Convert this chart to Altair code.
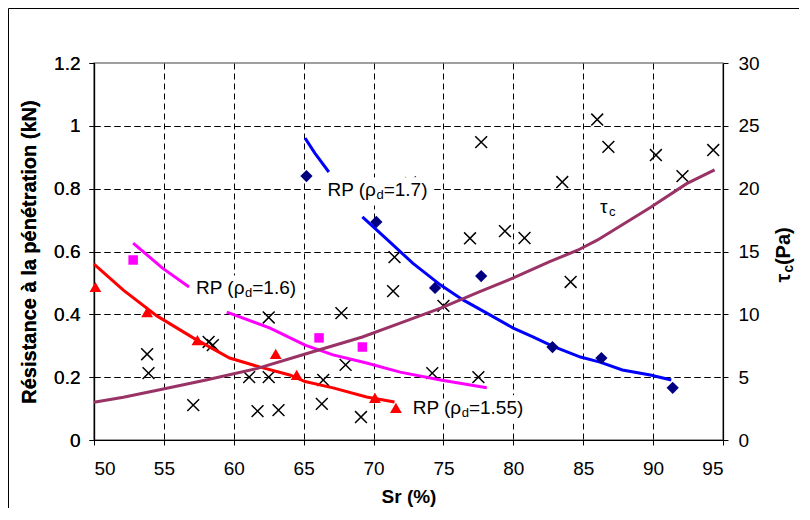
import altair as alt
import pandas as pd

FONT = "Liberation Sans"

# ---- data ----
# individual measurements (black crosses)
cross_sr = [53.8, 53.9, 57.1, 58.2, 58.5, 61.1, 61.7, 62.5, 62.5, 63.2,
            66.3, 66.4, 67.7, 68.0, 69.1, 71.4, 71.5, 72.6, 74.2, 75.0,
            76.9, 77.5, 77.7, 79.4, 80.8, 83.5, 84.1, 86.0, 86.8, 90.2,
            92.1, 94.3]
cross_rp = [0.273, 0.213, 0.111, 0.312, 0.302, 0.200, 0.092, 0.390, 0.200, 0.095,
            0.115, 0.191, 0.404, 0.239, 0.073, 0.474, 0.582, 0.820, 0.213, 0.427,
            0.642, 0.200, 0.948, 0.665, 0.643, 0.821, 0.503, 1.020, 0.933, 0.907,
            0.840, 0.923]

# RP, rho_d = 1.7 (navy diamonds + blue curve)
d17_sr = [65.2, 70.2, 74.4, 77.7, 82.8, 86.3, 91.4]
d17_rp = [0.840, 0.694, 0.484, 0.522, 0.296, 0.261, 0.166]
l17a_sr = [65.1, 65.8, 66.8]
l17a_rp = [0.961, 0.913, 0.853]
l17b_sr = [69.2, 71.0, 72.8, 74.8, 76.4, 78.1, 80.0, 81.4, 82.8, 84.8, 86.2, 87.8, 89.8, 91.3]
l17b_rp = [0.710, 0.637, 0.563, 0.493, 0.446, 0.404, 0.356, 0.328, 0.299, 0.264, 0.248, 0.223, 0.207, 0.191]

# RP, rho_d = 1.6 (magenta squares + curve)
d16_sr = [52.8, 66.1, 69.2]
d16_rp = [0.573, 0.325, 0.296]
l16a_sr = [52.8, 54.9, 56.8]
l16a_rp = [0.627, 0.547, 0.487]
l16b_sr = [59.5, 62.6, 65.1, 67.1, 69.5, 71.9, 74.8, 78.1]
l16b_rp = [0.407, 0.356, 0.302, 0.271, 0.245, 0.216, 0.191, 0.166]

# RP, rho_d = 1.55 (red triangles + curve)
d155_sr = [50.1, 53.8, 57.4, 63.0, 64.5, 70.1, 71.6]
d155_rp = [0.487, 0.407, 0.318, 0.274, 0.207, 0.134, 0.102]
l155_sr = [50.0, 52.1, 54.5, 57.1, 59.7, 61.9, 64.0, 65.1, 67.1, 69.5, 71.5]
l155_rp = [0.560, 0.477, 0.395, 0.325, 0.261, 0.232, 0.207, 0.186, 0.166, 0.137, 0.121]

# tau_c (right axis, Pa)
tau_sr = [50.0, 52.1, 54.7, 58.1, 61.7, 65.0, 69.2, 71.9, 74.8, 77.6, 80.0, 82.6, 84.6, 86.0, 89.8, 92.4, 94.4]
tau_pa = [3.0, 3.4, 4.0, 4.8, 5.7, 6.8, 8.2, 9.3, 10.5, 11.8, 12.9, 14.2, 15.1, 15.9, 18.5, 20.4, 21.5]

# annotations: main text, subscript, rest, anchor (Sr, kN)
ann_main = ["RP (ρ", "RP (ρ", "RP (ρ", "τ"]
ann_sub = ["d", "d", "d", "c"]
ann_rest = ["=1.7)", "=1.6)", "=1.55)", ""]
ann_sr = [66.7, 57.3, 72.8, 86.2]
ann_rp = [0.796, 0.484, 0.102, 0.742]

# right axis title pieces
rtitle_main = "τ"
rtitle_sub = "c"
rtitle_rest = "\u00a0(Pa)"

x_ticks = [50, 55, 60, 65, 70, 75, 80, 85, 90, 95]
y_ticks = [0, 0.2, 0.4, 0.6, 0.8, 1.0, 1.2]
tau_ticks = [0, 5, 10, 15, 20, 25, 30]

W_PLOT = 629
H_PLOT = 377
PAD = {"left": 86, "top": 55, "right": 76, "bottom": 68}

# ---- encodings ----
X = alt.X("sr:Q", scale=alt.Scale(domain=[50, 95], nice=False, zero=False),
          axis=alt.Axis(values=x_ticks, title="Sr (%)", format="d",
                        labelPadding=14, titlePadding=9, titleFontSize=19,
                        grid=True, gridDash=[6, 4], gridColor="black",
                        gridOpacity={"condition": {"test": "datum.value <= 50 || datum.value >= 95", "value": 0}, "value": 1}))
Y = alt.Y("rp:Q", scale=alt.Scale(domain=[0, 1.2], nice=False),
          axis=alt.Axis(values=y_ticks, title="Résistance à la pénétration (kN)", format="~g",
                        labelPadding=9, titlePadding=14,
                        grid=True, gridDash=[6, 4], gridColor="black",
                        gridOpacity={"condition": {"test": "datum.value <= 0 || datum.value >= 1.2", "value": 0}, "value": 1}))


def df(sr, rp, seg=None):
    d = pd.DataFrame({"sr": sr, "rp": rp})
    if seg is not None:
        d["seg"] = seg
    return d


def curve(parts, color):
    frames = []
    for i, (s, r) in enumerate(parts):
        frames.append(df(s, r, [i] * len(s)))
    return alt.Chart(pd.concat(frames)).mark_line(color=color, strokeWidth=3).encode(
        x=X, y=Y, detail="seg:N")


crosses = alt.Chart(df(cross_sr, cross_rp)).mark_point(
    shape="M-1,-1L1,1M-1,1L1,-1", filled=False, color="black", strokeWidth=1.5,
    size=140, opacity=1).encode(x=X, y=Y)

blue = curve([(l17a_sr, l17a_rp), (l17b_sr, l17b_rp)], "#0000FF")
mag = curve([(l16a_sr, l16a_rp), (l16b_sr, l16b_rp)], "#FF00FF")
red = curve([(l155_sr, l155_rp)], "#FF0000")

diam = alt.Chart(df(d17_sr, d17_rp)).mark_point(
    shape="diamond", filled=True, color="#000080", size=150, opacity=1).encode(x=X, y=Y)
squ = alt.Chart(df(d16_sr, d16_rp)).mark_point(
    shape="square", filled=True, color="#FF00FF", size=90, opacity=1).encode(x=X, y=Y)
tri = alt.Chart(df(d155_sr, d155_rp)).mark_point(
    shape="triangle-up", filled=True, color="#FF0000", size=140, opacity=1).encode(x=X, y=Y)

# text widths (Arial metrics, em)
W = {"R": .722, "P": .667, " ": .278, "\u00a0": .278, "(": .333, ")": .333, "ρ": .578,
     "=": .584, "1": .556, ".": .278, "7": .556, "6": .556, "5": .556, "d": .556,
     "τ": .47, "c": .5, "a": .556}


def tw(s, size):
    return sum(W.get(ch, .556) for ch in s) * size


MAIN = 19
SUB = 13


def text_part(xs, yr, txt, size, dx, dy, halo):
    d = df([xs], [yr])
    d["t"] = [txt]
    kw = dict(align="left", baseline="middle", font=FONT, fontSize=size, dx=dx, dy=dy)
    if halo:
        m = alt.Chart(d).mark_text(color="white", stroke="white", strokeWidth=11, **kw)
    else:
        m = alt.Chart(d).mark_text(color="black", **kw)
    return m.encode(x=X, y=Y, text="t:N")


halos, labels = [], []
for m, s, r, xs, yr in zip(ann_main, ann_sub, ann_rest, ann_sr, ann_rp):
    w1 = tw(m, MAIN)
    parts = [(m, MAIN, 0, 0), (s, SUB, w1, 5)]
    if r:
        parts.append((r, MAIN, w1 + tw(s, SUB), 0))
    for txt, size, dx, dy in parts:
        halos.append(text_part(xs, yr, txt, size, dx, dy, True))
        labels.append(text_part(xs, yr, txt, size, dx, dy, False))

# outer chart frame (top and left edges visible in the reference)
one = pd.DataFrame({"k": [0]})
frame_top = alt.Chart(one).mark_rule(color="black", strokeWidth=1).encode(
    x=alt.value(-PAD["left"] + 0.5), x2=alt.value(W_PLOT + PAD["right"]), y=alt.value(-PAD["top"] + 0.5))
frame_left = alt.Chart(one).mark_rule(color="black", strokeWidth=1).encode(
    x=alt.value(-PAD["left"] + 0.5), y=alt.value(-PAD["top"] + 0.5), y2=alt.value(H_PLOT + PAD["bottom"]))

# right axis title with subscript, rotated (reads bottom to top)
TS = 20
TSUB = 14
t_len = tw(rtitle_main, TS) + tw(rtitle_sub, TSUB) + tw(rtitle_rest, TS) * 1.05
t_x = W_PLOT + 61
t_y = H_PLOT / 2 + t_len / 2
rt = []
for txt, size, dx, dy in [(rtitle_main, TS, 0, 0),
                          (rtitle_sub, TSUB, tw(rtitle_main, TS) + 0.5, 5),
                          (rtitle_rest, TS, tw(rtitle_main, TS) + tw(rtitle_sub, TSUB) + 1, 0)]:
    d = pd.DataFrame({"t": [txt]})
    rt.append(alt.Chart(d).mark_text(align="left", baseline="middle", angle=270, font=FONT,
                                     fontSize=size, fontWeight="bold", color="black",
                                     dx=dx, dy=dy).encode(x=alt.value(t_x), y=alt.value(t_y), text="t:N"))

tau = alt.Chart(pd.DataFrame({"sr": tau_sr, "tau": tau_pa})).mark_line(
    color="#993366", strokeWidth=3).encode(
    x=X,
    y=alt.Y("tau:Q", scale=alt.Scale(domain=[0, 30], nice=False),
            axis=alt.Axis(orient="right", values=tau_ticks, format="d", title="",
                          labelPadding=10, grid=False)))

left = alt.layer(frame_top, frame_left, crosses, red, mag, blue, tri, squ, diam)

chart = alt.layer(left, tau, alt.layer(*halos, *labels, *rt)).resolve_scale(y="independent").properties(
    width=W_PLOT, height=H_PLOT,
    padding=PAD,
    autosize=alt.AutoSizeParams(type="none"),
    background="white",
).configure_view(stroke="#808080", strokeWidth=1.5).configure_axis(
    labelFont=FONT, labelFontSize=19, labelColor="black",
    titleFont=FONT, titleFontSize=20, titleFontWeight="bold", titleColor="black",
    domainColor="black", domainWidth=1.2, tickColor="black", tickSize=5,
)

chart.save("out.html", embed_options={"renderer": "svg", "actions": False})
